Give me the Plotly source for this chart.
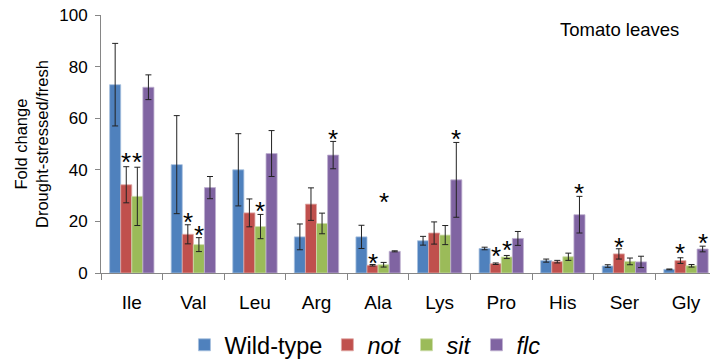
import plotly.graph_objects as go

categories = ["Ile", "Val", "Leu", "Arg", "Ala", "Lys", "Pro", "His", "Ser", "Gly"]
series_names = ["Wild-type", "<i>not</i>", "<i>sit</i>", "<i>flc</i>"]

wild_type = [73, 42, 40, 14, 14, 12.5, 9.5, 4.8, 2.7, 1.4]
wild_type_err = [16, 19, 14, 5, 4.5, 1.7, 0.5, 0.6, 0.5, 0.15]
not_vals = [34.2, 15, 23.3, 26.7, 3, 15.5, 3.6, 4.4, 7.4, 4.8]
not_err = [7, 3.7, 5.4, 6.3, 0.3, 4.3, 0.3, 0.5, 2, 1.1]
sit_vals = [29.7, 11, 18, 19.2, 3.2, 14.7, 6.2, 6.3, 4.5, 2.8]
sit_err = [11.3, 2.7, 4.7, 4, 0.9, 3.7, 0.6, 1.4, 1.3, 0.5]
flc_vals = [72, 33.1, 46.3, 45.7, 8.4, 36.1, 13.4, 22.6, 4.3, 9.3]
flc_err = [4.8, 4.3, 8.9, 5.3, 0.2, 14.5, 2.7, 7.1, 2.2, 1.1]

# significance stars: (category index, series index, y position)
star_cat = [0, 0, 1, 1, 2, 3, 4, 4, 5, 6, 6, 7, 8, 9, 9]
star_series = [1, 2, 1, 2, 2, 3, 1, 2, 3, 1, 2, 3, 1, 1, 3]
star_y = [46, 46, 23, 18, 27, 55, 7, 30.6, 55, 9.7, 12.2, 34.2, 13.3, 11, 14.9]

colors = ["#4F81BD", "#C0504D", "#9BBB59", "#8064A2"]
edge_colors = ["#A7C0DE", "#E0A8A6", "#CDDDAC", "#BFB1D0"]
values = [wild_type, not_vals, sit_vals, flc_vals]
errors = [wild_type_err, not_err, sit_err, flc_err]

FONT = "Arial, Liberation Sans, sans-serif"
x_idx = list(range(len(categories)))
bar_w = 0.18
offsets = [-1.5 * bar_w, -0.5 * bar_w, 0.5 * bar_w, 1.5 * bar_w]

fig = go.Figure()
for k in range(4):
    fig.add_trace(go.Bar(
        x=x_idx, y=values[k], name=series_names[k],
        marker=dict(color=colors[k], line=dict(color=edge_colors[k], width=0.8)),
        error_y=dict(type="data", array=errors[k], visible=True,
                     color="#222222", thickness=1, width=3),
    ))

annotations = []
for c, s, yv in zip(star_cat, star_series, star_y):
    annotations.append(dict(
        x=c + offsets[s], y=yv, xref="x", yref="y", text="*", showarrow=False,
        font=dict(family=FONT, size=26, color="#000000"),
        xanchor="center", yanchor="middle", yshift=-8,
    ))

annotations.append(dict(
    x=0.8506, y=0.9446, xref="paper", yref="paper", text="Tomato leaves",
    showarrow=False, font=dict(family=FONT, size=18.5, color="#000000"),
    xanchor="center", yanchor="middle",
))
annotations.append(dict(
    x=-0.115, y=0.5, xref="paper", yref="paper",
    text="Fold change<br>Drought-stressed/fresh", textangle=-90,
    showarrow=False, font=dict(family=FONT, size=16.5, color="#000000"),
    xanchor="center", yanchor="middle",
))

fig.update_layout(
    width=710, height=363,
    margin=dict(l=101, r=0, t=15, b=90, autoexpand=False),
    paper_bgcolor="white", plot_bgcolor="white",
    barmode="group", bargap=0.28, bargroupgap=0,
    font=dict(family=FONT, color="#000000"),
    showlegend=True,
    legend=dict(orientation="h", xref="container", yref="container",
                x=0.514, y=0.0495, xanchor="center", yanchor="middle",
                font=dict(family=FONT, size=23.5, color="#000000"),
                traceorder="normal", itemwidth=30),
    annotations=annotations,
)
fig.update_xaxes(
    range=[-0.5, 9.39], tickvals=x_idx, ticktext=categories, automargin=False,
    showline=True, linecolor="#868686", linewidth=1,
    ticks="", showgrid=False, zeroline=False, ticklabelstandoff=12,
    tickfont=dict(family=FONT, size=19, color="#000000"),
    minor=dict(ticks="outside", tick0=-0.5, dtick=1, ticklen=6,
               tickcolor="#868686", showgrid=False),
)
fig.update_yaxes(
    range=[0, 100], tickvals=[0, 20, 40, 60, 80, 100], automargin=False,
    showline=True, linecolor="#868686", linewidth=1,
    ticks="outside", ticklen=5, tickcolor="#868686", ticklabelstandoff=4,
    showgrid=False, zeroline=False,
    tickfont=dict(family=FONT, size=17, color="#000000"),
)

fig.write_html("out.html")
